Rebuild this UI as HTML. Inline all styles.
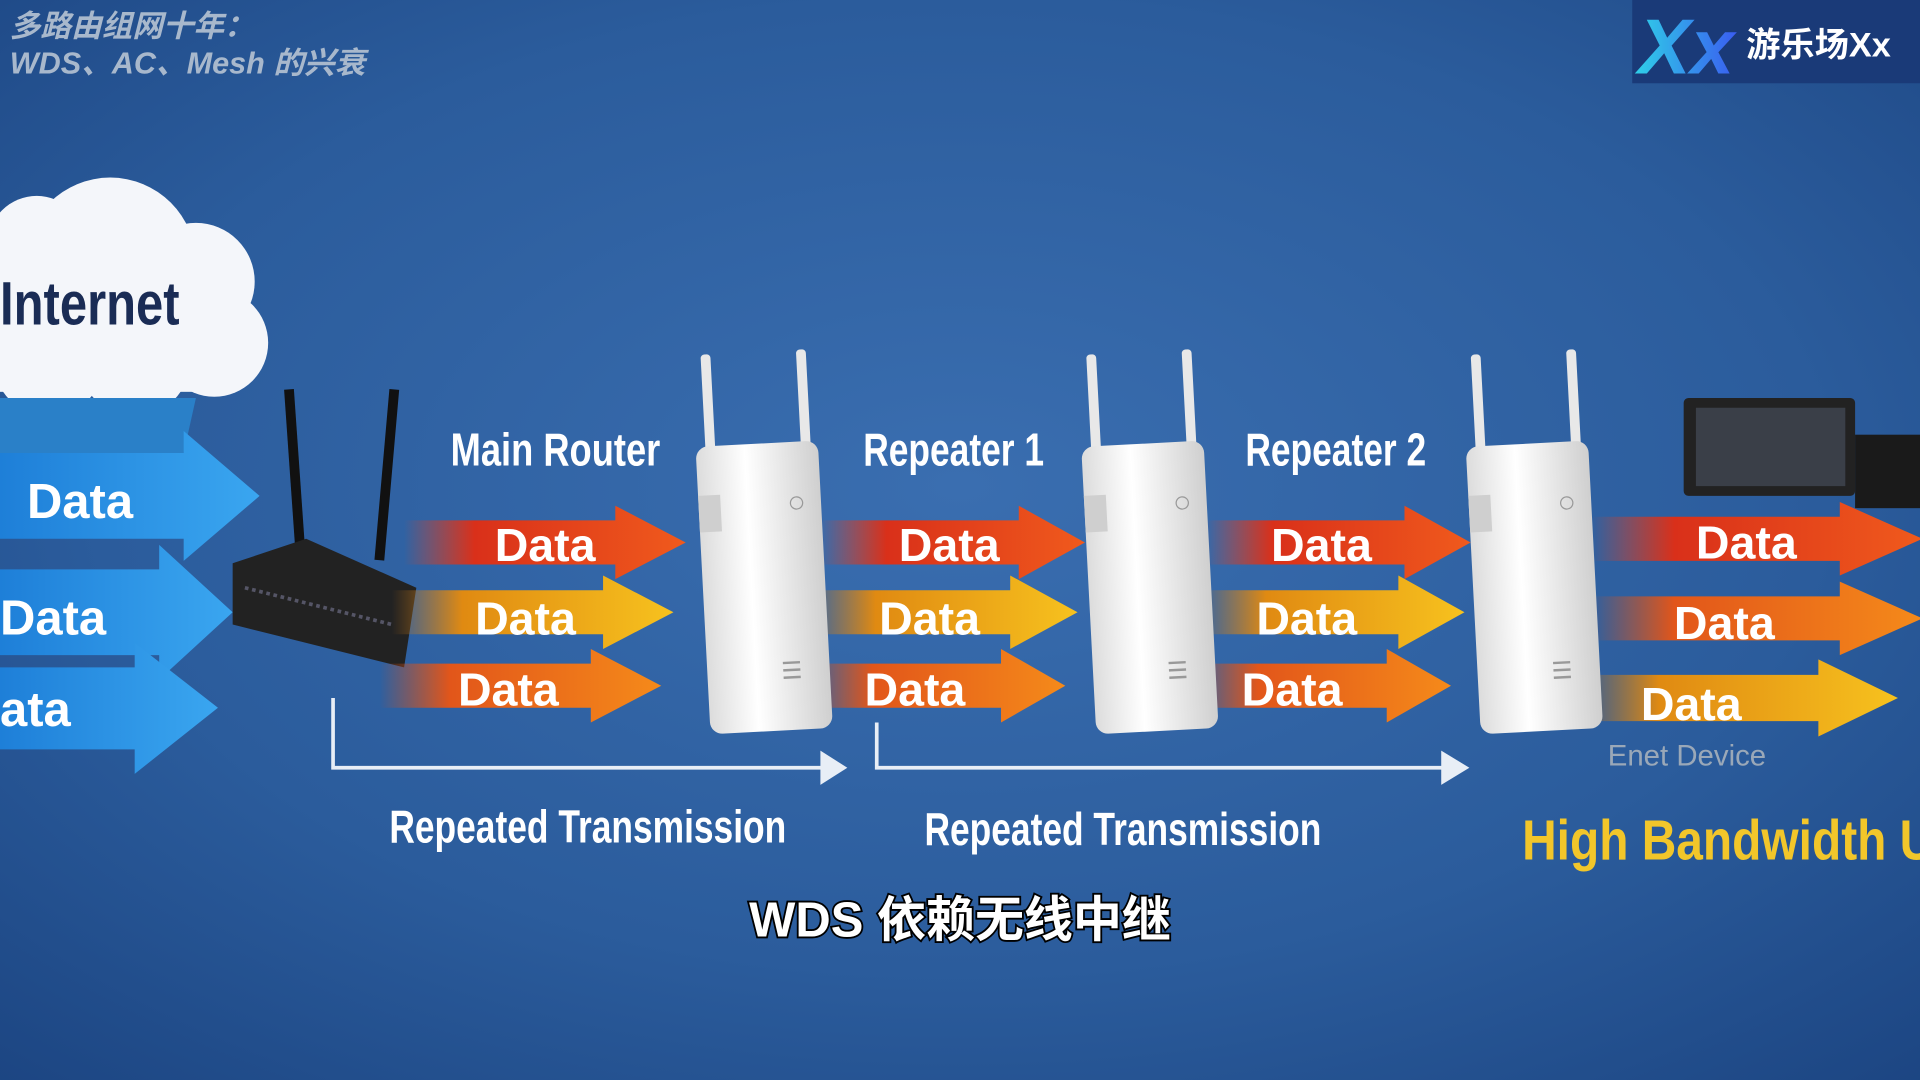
<!DOCTYPE html>
<html><head><meta charset="utf-8"><style>
html,body{margin:0;padding:0;width:1920px;height:1080px;overflow:hidden;background:#2a5a98}
svg{display:block}
text{font-family:"Liberation Sans","Noto Sans CJK SC",sans-serif}
</style></head><body>
<svg width="1920" height="1080" viewBox="0 0 1568 882" xmlns="http://www.w3.org/2000/svg">
<defs>
<radialGradient id="bg" cx="50%" cy="45%" r="75%">
<stop offset="0" stop-color="#3a6eb0"/><stop offset="0.6" stop-color="#2b5c9c"/><stop offset="1" stop-color="#1c4582"/></radialGradient>
<linearGradient id="red" x1="0" x2="1"><stop offset="0" stop-color="#e8401a" stop-opacity="0"/><stop offset="0.25" stop-color="#d9301a"/><stop offset="1" stop-color="#f05a1c"/></linearGradient>
<linearGradient id="yel" x1="0" x2="1"><stop offset="0" stop-color="#d07a10" stop-opacity="0"/><stop offset="0.25" stop-color="#e08a12"/><stop offset="1" stop-color="#f7c21e"/></linearGradient>
<linearGradient id="org" x1="0" x2="1"><stop offset="0" stop-color="#e05010" stop-opacity="0"/><stop offset="0.25" stop-color="#e2561a"/><stop offset="1" stop-color="#f58a1a"/></linearGradient>
<linearGradient id="blu" x1="0" x2="1"><stop offset="0" stop-color="#1e7fd8"/><stop offset="1" stop-color="#3aa6f0"/></linearGradient>
<linearGradient id="dev" x1="0" x2="1"><stop offset="0" stop-color="#dcdcdc"/><stop offset="0.4" stop-color="#ffffff"/><stop offset="1" stop-color="#cfcfcf"/></linearGradient>
<linearGradient id="xx" x1="0" x2="1"><stop offset="0" stop-color="#2fd0e8"/><stop offset="1" stop-color="#3a5cf0"/></linearGradient>
<g id="arrR"><path d="M0,-18 H150 V-30 L200,0 L150,30 V18 H0 Z"/></g>
<g id="rep">
<rect x="8" y="-75" width="8" height="80" rx="3" fill="#e8e8e8"/>
<rect x="86" y="-75" width="8" height="80" rx="3" fill="#e8e8e8"/>
<rect x="0" y="0" width="100" height="235" rx="10" fill="url(#dev)"/>
<rect x="0" y="40" width="18" height="30" fill="#cfcfcf"/>
<circle cx="80" cy="50" r="5" fill="none" stroke="#999"/>
<g stroke="#999" stroke-width="2"><line x1="62" y1="180" x2="76" y2="180"/><line x1="62" y1="186" x2="76" y2="186"/><line x1="62" y1="192" x2="76" y2="192"/></g>
</g>
</defs>
<rect width="1568" height="882" fill="url(#bg)"/>

<text x="8" y="30" font-size="25" font-style="italic" fill="#a8b8cc" font-weight="bold">多路由组网十年：</text>
<text x="8" y="60" font-size="25" font-style="italic" fill="#a8b8cc" font-weight="bold">WDS、AC、Mesh 的兴衰</text>

<rect x="1333" y="0" width="235" height="68" fill="#1a3a78"/>
<text x="1338" y="60" font-size="64" font-weight="bold" font-style="italic" fill="url(#xx)">Xx</text>
<text x="1426" y="46" font-size="28" font-weight="bold" fill="#ffffff">游乐场Xx</text>

<g fill="#f4f6fa">
<circle cx="90" cy="215" r="70"/><circle cx="160" cy="230" r="48"/><circle cx="175" cy="280" r="44"/>
<circle cx="30" cy="200" r="40"/><circle cx="110" cy="295" r="45"/><circle cx="40" cy="295" r="45"/>
<rect x="0" y="200" width="180" height="120"/>
</g>
<path d="M0,325 H160 L150,370 H0Z" fill="#2a80c8"/>
<text x="0" y="265" font-size="50" font-weight="bold" fill="#1a2c55" transform="scale(0.8,1)">Internet</text>

<g fill="url(#blu)">
<path d="M0,370 H150 V352 L212,405 L150,458 V440 H0Z"/>
<path d="M0,465 H130 V445 L190,500 L130,555 V535 H0Z"/>
<path d="M0,545 H110 V525 L178,578 L110,632 V612 H0Z"/>
</g>
<g font-size="40" font-weight="bold" fill="#fff">
<text x="22" y="423">Data</text><text x="0" y="518">Data</text><text x="0" y="593">ata</text>
</g>

<rect x="232" y="318" width="8" height="130" fill="#111" transform="rotate(-4 236 318)"/>
<rect x="318" y="318" width="8" height="140" fill="#111" transform="rotate(5 322 318)"/>
<path d="M190,460 L250,440 L340,480 L330,545 L190,510Z" fill="#222"/>
<path d="M200,480 L320,510" stroke="#556" stroke-width="3" stroke-dasharray="3 3"/>

<g font-size="38" font-weight="bold" fill="#fff">
<text x="368" y="380" transform="scale(0.78,1) translate(103.8,0)">Main Router</text>
<text x="705" y="380" transform="scale(0.76,1) translate(222.6,0)">Repeater 1</text>
<text x="1017" y="380" transform="scale(0.76,1) translate(321.2,0)">Repeater 2</text>
</g>

<g>
<use href="#arrR" transform="translate(330,443) scale(1.15,1)" fill="url(#red)"/>
<use href="#arrR" transform="translate(320,500) scale(1.15,1)" fill="url(#yel)"/>
<use href="#arrR" transform="translate(310,560) scale(1.15,1)" fill="url(#org)"/>
<use href="#arrR" transform="translate(670,443) scale(1.08,1)" fill="url(#red)"/>
<use href="#arrR" transform="translate(660,500) scale(1.1,1)" fill="url(#yel)"/>
<use href="#arrR" transform="translate(660,560) scale(1.05,1)" fill="url(#org)"/>
<use href="#arrR" transform="translate(985,443) scale(1.08,1)" fill="url(#red)"/>
<use href="#arrR" transform="translate(980,500) scale(1.08,1)" fill="url(#yel)"/>
<use href="#arrR" transform="translate(975,560) scale(1.05,1)" fill="url(#org)"/>
<use href="#arrR" transform="translate(1300,440) scale(1.35,1)" fill="url(#red)"/>
<use href="#arrR" transform="translate(1300,505) scale(1.35,1)" fill="url(#org)"/>
<use href="#arrR" transform="translate(1290,570) scale(1.3,1.05)" fill="url(#yel)"/>
</g>

<rect x="1375" y="325" width="140" height="80" rx="4" fill="#222"/>
<rect x="1385" y="333" width="122" height="64" fill="#3a3f48"/>
<rect x="1515" y="355" width="53" height="60" fill="#1a1a1a"/>

<use href="#rep" transform="translate(568,365) rotate(-3)"/>
<use href="#rep" transform="translate(883,365) rotate(-3)"/>
<use href="#rep" transform="translate(1197,365) rotate(-3)"/>

<g font-size="38" font-weight="bold" fill="#fff">
<text x="404" y="458">Data</text><text x="388" y="518">Data</text><text x="374" y="576">Data</text>
<text x="734" y="458">Data</text><text x="718" y="518">Data</text><text x="706" y="576">Data</text>
<text x="1038" y="458">Data</text><text x="1026" y="518">Data</text><text x="1014" y="576">Data</text>
<text x="1385" y="456">Data</text><text x="1367" y="522">Data</text><text x="1340" y="588">Data</text>
</g>
<text x="1313" y="625" font-size="24" fill="#9aa8b8">Enet Device</text>

<g stroke="#e8eef6" stroke-width="3" fill="none">
<path d="M272,570 V627 H680"/><path d="M716,590 V627 H1185"/>
</g>
<path d="M670,613 L692,627 L670,641Z" fill="#e8eef6"/>
<path d="M1177,613 L1200,627 L1177,641Z" fill="#e8eef6"/>

<g font-size="38" font-weight="bold" fill="#fff">
<text x="318" y="688" transform="scale(0.76,1) translate(100.4,0)">Repeated Transmission</text>
<text x="755" y="690" transform="scale(0.76,1) translate(238.4,0)">Repeated Transmission</text>
</g>
<text x="1243" y="702" font-size="46" font-weight="bold" fill="#f2c62a" transform="scale(0.85,1) translate(219.4,0)">High Bandwidth Us</text>

<text x="784" y="765" font-size="40" fill="#fff" text-anchor="middle" stroke="#000" stroke-width="3" paint-order="stroke" font-weight="bold">WDS 依赖无线中继</text>
</svg>
</body></html>
